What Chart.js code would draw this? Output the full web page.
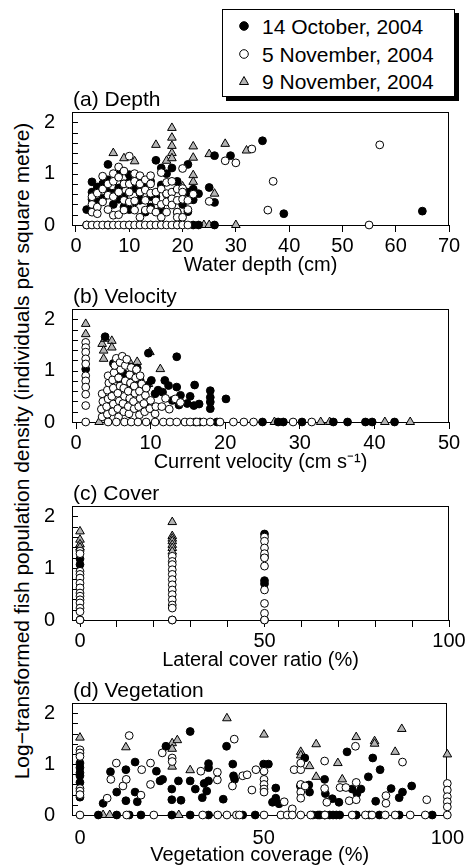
<!DOCTYPE html>
<html>
<head>
<meta charset="utf-8">
<script src="https://cdn.jsdelivr.net/npm/chart.js@4.4.1/dist/chart.umd.min.js"></script>
<style>
body { margin: 0; background: #fff; }
#page { position: relative; width: 475px; height: 867px; overflow: hidden; font-family: "Liberation Sans", Arial, sans-serif; color: #000; }
.panel { position: absolute; left: 0; width: 475px; }
#ytitle { position: absolute; left: 22px; top: 451px; transform: translate(-50%, -50%) rotate(-90deg); white-space: nowrap; font-size: 21px; }
#legend { position: absolute; left: 222px; top: 9px; width: 231px; height: 86px; border: 1px solid #000; box-shadow: 4px 4px 0 #000; background: #fff; font-size: 21px; }
.row { position: absolute; left: 15px; height: 24px; line-height: 24px; white-space: nowrap; }
.row svg { vertical-align: middle; margin-right: 12px; position: relative; top: -2px; }
</style>
</head>
<body>
<div id="page">
  <div id="legend">
    <div class="row" style="top:5px"><svg width="12" height="12"><circle cx="6" cy="6" r="4.3" fill="#000" stroke="#000"/></svg>14 October, 2004</div>
    <div class="row" style="top:33px"><svg width="12" height="12"><circle cx="6" cy="6" r="4.3" fill="#fff" stroke="#000"/></svg>5 November, 2004</div>
    <div class="row" style="top:60px"><svg width="12" height="12"><polygon points="6,1.5 10.5,9.5 1.5,9.5" fill="#b4b4b4" stroke="#000"/></svg>9 November, 2004</div>
  </div>
  <div id="ytitle">Log−transformed fish population density (individuals per square metre)</div>
  <div class="panel" style="top:86px"><canvas id="chartA" width="475" height="191"></canvas></div>
  <div class="panel" style="top:283px"><canvas id="chartB" width="475" height="191"></canvas></div>
  <div class="panel" style="top:480px"><canvas id="chartC" width="475" height="192"></canvas></div>
  <div class="panel" style="top:677px"><canvas id="chartD" width="475" height="190"></canvas></div>
</div>
<script>
// (a) water depth (cm) vs log density
let depthOct = [[2,0.30],[3,0.84],[3,0.64],[3,0.50],[4,0.74],[4,0.45],[5,0.52],[5,0.80],[6,1.18],[6,0.88],[6,0.64],[7,0.40],[7,0.62],[8,0.98],[8,0.72],[8,0.50],[9,0.35],[9,0.55],[9,0.80],[10,0.98],[10,0.84],[10,0.30],[11,0.71],[11,0.45],[12,0.48],[12,0.62],[12,0.85],[13,0.25],[13,0.75],[14,0.55],[14,0.35],[14,0.85],[15,1.26],[15,0.55],[16,1.11],[16,0.78],[16,0.30],[17,1.00],[17,0.60],[18,1.11],[18,0.42],[19,0.25],[19,0.85],[20,0.65],[20,0.40],[21,1.18],[21,0.26],[21,0.64],[22,0.49],[22,0.70],[23,0.61],[25,0.73],[26,0.44],[26,1.35],[29,1.35],[35,1.64],[39,0.22],[65,0.27],
  [2,0],[6,0],[10,0],[14,0],[19,0],[22,0],[23,0],[26,0]];
let depthNov5 = [[3,0.55],[3,0.40],[3,0.25],[4,0.35],[4,0.22],[4,0.62],[5,0.70],[5,0.45],[5,0.95],[6,0.58],[6,0.30],[6,0.80],[7,0.19],[7,0.85],[7,0.55],[7,1.00],[8,1.13],[8,0.93],[8,0.64],[8,0.20],[9,0.80],[9,0.48],[9,0.29],[9,1.05],[10,1.34],[10,0.80],[10,0.64],[10,0.45],[11,0.47],[11,0.29],[11,1.00],[11,0.85],[12,0.96],[12,0.80],[12,0.64],[12,0.15],[13,0.48],[13,0.29],[13,0.68],[13,0.88],[14,0.96],[14,0.80],[14,0.30],[14,0.62],[15,0.64],[15,0.47],[15,0.25],[16,1.02],[16,0.40],[16,0.70],[16,0.15],[17,0.83],[17,0.61],[17,0.25],[17,0.45],[18,0.64],[18,0.51],[18,0.39],[18,0.85],[19,0.25],[19,0.15],[19,0.48],[19,0.70],[20,1.10],[20,0.71],[20,0.64],[20,0.50],[20,0.15],[21,0.48],[21,0.30],[22,0.60],[25,0.46],[28,1.25],[30,1.21],[33,1.48],[36,0.29],[37,0.85],[57,1.56],
  [2,0],[3,0],[4,0],[5,0],[6,0],[7,0],[8,0],[9,0],[10,0],[11,0],[12,0],[13,0],[14,0],[15,0],[16,0],[17,0],[18,0],[19,0],[20,0],[21,0],[55,0]];
let depthNov9 = [[7,1.40],[9,1.30],[11,1.24],[15,1.56],[17,1.25],[18,1.89],[18,1.70],[18,1.54],[18,1.40],[18,1.30],[20,0.75],[22,1.53],[22,1.31],[22,0.97],[22,0.84],[22,0.68],[25,1.38],[26,0.61],[28,1.58],[32,1.45],
  [24,0],[25,0],[30,0]];

// (b) current velocity (cm/s)
let velOct = [[3.9,1.66],[9.7,1.34],[13.5,1.27],[5.0,1.14],[5.7,1.08],[5.5,0.98],[6.4,0.94],[5.9,0.81],[6.8,0.88],[7.3,0.75],[7.7,0.98],[8.6,0.81],[9.5,0.71],[10.1,0.81],[11.9,0.81],[12.4,0.71],[11.0,0.62],[11.6,0.58],[10.6,0.55],[13.5,0.68],[14.0,0.52],[12.9,0.42],[13.8,0.33],[14.9,0.36],[5.5,0.28],[6.3,0.24],[9.5,0.32],[10.3,0.26],[15.9,0.72],[15.3,0.50],[15.8,0.32],[16.5,0.35],[18.0,0.61],[18.0,0.48],[18.0,0.39],[18.0,0.26],[20.1,0.45],[8.2,1.05],[1.3,1.03],
  [16.0,0],[16.6,0],[18.9,0],[25.0,0],[27.1,0],[27.8,0],[30.3,0],[34.5,0],[36.4,0],[38.8,0],[39.7,0],[42.7,0]];
let velNov5 = [[1.3,1.55],[1.3,1.45],[1.3,1.36],[1.3,1.23],[1.3,1.13],[1.3,0.90],[1.3,0.80],[1.3,0.68],[1.3,0.54],[1.3,0.32],
  [3.5,0.10],[3.4,0.25],[3.6,0.40],[3.5,0.55],
  [4.2,0.15],[4.1,0.30],[4.3,0.45],[4.2,0.62],[4.4,0.76],[4.3,0.90],
  [4.9,0.20],[5.0,0.35],[4.8,0.50],[5.0,0.66],[4.9,0.82],[5.1,0.96],[5.2,1.10],[5.4,1.24],
  [5.7,0.10],[5.6,0.26],[5.8,0.41],[5.6,0.56],[5.9,0.70],[5.7,0.86],[6.0,1.02],[5.9,1.16],[6.2,1.28],
  [6.4,0.20],[6.3,0.36],[6.5,0.50],[6.4,0.66],[6.6,0.80],[6.6,1.10],[6.8,1.22],
  [7.1,0.16],[7.0,0.30],[7.2,0.46],[7.0,0.60],[7.3,0.76],[7.2,0.92],[7.4,1.06],
  [7.8,0.26],[7.7,0.40],[7.9,0.56],[7.8,0.70],[8.0,0.86],[8.1,1.02],
  [8.5,0.14],[8.4,0.30],[8.6,0.46],[8.5,0.60],[8.8,0.74],[8.6,0.90],
  [9.2,0.20],[9.1,0.36],[9.3,0.52],[9.4,0.66],
  [9.9,0.26],[10.0,0.42],[10.6,0.16],[10.7,0.30],[11.5,0.30],[12.0,0.46],[12.5,0.25],[13.3,0.45],[14.0,0.38],
  [1.3,0],[4.3,0],[5.4,0],[6.5,0],[7.4,0],[8.3,0],[9.4,0],[10.6,0],[11.7,0],[12.6,0],[13.5,0],[14.6,0],[15.3,0],[16.2,0],[17.1,0],[18.0,0],[19.3,0],[21.1,0],[22.5,0],[23.8,0],[29.1,0],[31.6,0]];
let velNov9 = [[1.3,1.91],[1.3,1.71],[3.5,1.52],[3.9,1.62],[4.8,1.58],[4.8,1.45],[3.7,1.39],[3.7,1.23],[7.1,1.19],[8.2,1.17],[9.9,1.36],[11.3,1.03],[9.7,0.74],
  [3.1,0],[26.6,0],[32.8,0],[34.0,0],[41.4,0],[44.8,0]];

// (c) lateral cover ratio (%)
let coverOct = [[0,1.18],[0,1.07],[50,1.66],[50,1.22],[50,0.76],[50,0.70],[0,0],[25,0],[50,0]];
let coverNov5 = [[0,1.33],[0,1.28],[0,0.94],[0,0.88],[0,0.81],[0,0.71],[0,0.62],[0,0.52],[0,0.46],[0,0.39],[0,0.33],[0,0.23],[0,0.16],[0,0],
  [25,1.23],[25,1.13],[25,1.07],[25,0.97],[25,0.88],[25,0.78],[25,0.68],[25,0.58],[25,0.49],[25,0.39],[25,0.29],[25,0.23],[25,0],
  [50,1.60],[50,1.52],[50,1.39],[50,1.28],[50,1.20],[50,1.04],[50,0.58],[50,0.32],[50,0.13],[50,0]];
let coverNov9 = [[0,1.71],[0,1.55],[0,1.46],[0,1.40],[25,1.89],[25,1.62],[25,1.57],[25,1.52],[25,1.45],[25,1.39],[25,1.32]];

// (d) vegetation coverage (%)
let vegOct = [[0,1.02],[0,0.93],[0,0.83],[0,0.77],[0,0.64],[0,0.35],[6.3,0.23],[8.3,0.85],[10,0.45],[12.5,0.89],[12.5,0.28],[15,1.04],[15,0.45],[15.6,0.26],[20.8,0.86],[21.8,0.67],[22.5,0.70],[23.4,1.35],[25,0.51],[25,0.30],[26.8,0.67],[27.5,0.29],[30,1.64],[30,0.67],[31.4,0.51],[33.3,0.34],[33.8,0.62],[34.5,0.47],[35,1.01],[35,0.93],[35,0.67],[39,0.31],[39.9,1.35],[41.6,1.00],[41.8,0.77],[42.1,0.70],[50,1.00],[51.3,1.00],[52.4,0.25],[53.3,0.53],[53.3,0.33],[54.2,0.22],[60,0.57],[61.2,1.12],[62.3,0.59],[62.5,0.45],[66.6,0.70],[66.8,0.42],[68.7,0.32],[70.5,0.25],[72.7,1.24],[74.1,0.51],[75.4,0.42],[76.5,0.51],[78.5,0.75],[79.7,1.12],[80.5,0.27],[81.7,0.89],[84.7,0.52],[86.9,0.34],[87.8,0.45],[90.3,0.57],
  [5,0],[10,0],[13.4,0],[16.6,0],[25,0],[30,0],[35,0],[44.3,0],[47.7,0],[63.4,0],[64.8,0],[65.3,0],[66.6,0],[68,0],[68.9,0],[69.8,0],[70.7,0],[75.2,0],[78.8,0],[81.5,0],[86.9,0],[95.9,0]];
let vegNov5 = [[0,1.28],[0,1.22],[0,1.15],[0,0.52],[0,0.47],[0,0.40],[7.4,0.33],[8.4,0.70],[9.9,1.02],[11.7,0.57],[12.6,0.70],[13.4,1.56],[16.6,0.39],[16.8,0.89],[19.2,1.02],[19.2,0.60],[22.4,1.22],[25.1,1.12],[25.1,1.05],[32.9,0.86],[37.4,0.69],[37.4,0.84],[41.5,0.57],[42,1.49],[44.3,0.77],[45.5,0.79],[46.8,0.49],[47.9,0.89],[50.1,0.86],[50.1,0.70],[50.1,0.60],[50.1,0.51],[50.1,0.45],[55.6,0.26],[57.8,0.12],[58.3,0.89],[60.1,0.89],[60.1,1.02],[60.1,0.60],[60.1,0.45],[60.1,0.33],[61.3,0.57],[66.6,1.06],[66.6,0.52],[67.2,0.25],[70.8,0.54],[72.4,0.54],[73.3,0.28],[75,1.35],[75.2,0.64],[75.2,0.30],[83.3,0.38],[83.3,0.23],[87.8,1.04],[94.4,0.30],[100,0.62],[100,0.49],[100,0.36],[100,0.26],[100,0.16],
  [0,0],[12.7,0],[20.1,0],[33.4,0],[37.5,0],[40,0],[42.6,0],[43.4,0],[50.1,0],[54.7,0],[56.4,0],[57.8,0],[60.1,0],[62.8,0],[66.7,0],[74.1,0],[77.7,0],[79.5,0],[83.1,0],[85.8,0],[89.9,0],[94,0],[100,0]];
let vegNov9 = [[0,1.52],[12.5,1.33],[25.1,1.41],[26.5,1.47],[25.1,1.30],[25.1,0.95],[30,0.88],[40,1.90],[50.1,1.58],[60.1,1.24],[60.1,1.17],[62.5,0.96],[64.3,1.39],[64.3,0.75],[70.2,1.02],[71.4,0.70],[75.2,1.53],[80.2,1.45],[80.2,1.40],[85.8,1.24],[87.6,1.69],[100,1.19],
  [6.3,0],[8.1,0],[26.9,0]];

let yTicks = [0, 1, 2];
let yMinor = [0, 0.2, 0.4, 0.6, 0.8, 1, 1.2, 1.4, 1.6, 1.8, 2];
let depthTicks = [0, 10, 20, 30, 40, 50, 60, 70];
let velTicks = [0, 10, 20, 30, 40, 50];
let pctTicks = [0, 10, 20, 30, 40, 50, 60, 70, 80, 90, 100];
let pctLabels = [0, 50, 100];

// frame box, inward y ticks and panel title
const framePlugin = {
    id: 'frame',
    beforeDatasetsDraw(chart, args, opts) {
        let ctx = chart.ctx, a = chart.chartArea, ys = chart.scales.y;
        ctx.save();
        ctx.strokeStyle = '#000';
        ctx.lineWidth = 1;
        ctx.strokeRect(Math.round(a.left) + 0.5, Math.round(a.top) + 0.5, Math.round(a.right - a.left) - 1, Math.round(a.bottom - a.top));
        ctx.beginPath();
        for (let v of yMinor) {
            let py = Math.round(ys.getPixelForValue(v)) + 0.5;
            ctx.moveTo(a.left, py);
            ctx.lineTo(a.left + 6, py);
        }
        ctx.stroke();
        ctx.fillStyle = '#000';
        ctx.font = '21px "Liberation Sans", Arial, sans-serif';
        ctx.textBaseline = 'middle';
        ctx.textAlign = 'left';
        ctx.fillText(opts.title, a.left + 1, a.top - 12);
        ctx.restore();
    }
};

function makePanel(id, title, xTitle, xMin, xMax, xTicks, tickLen, sets) {
    let font = {family: '"Liberation Sans", Arial, sans-serif', size: 20};
    new Chart(document.getElementById(id), {
        type: 'scatter',
        data: {
            datasets: [
                {data: sets[0], pointStyle: 'circle', pointRadius: 3.9, backgroundColor: '#000', borderColor: '#000', borderWidth: 1, order: 1, clip: false},
                {data: sets[1], pointStyle: 'circle', pointRadius: 3.9, backgroundColor: '#fff', borderColor: '#000', borderWidth: 1, order: 0, clip: false},
                {data: sets[2], pointStyle: 'triangle', pointRadius: 5, backgroundColor: '#b4b4b4', borderColor: '#000', borderWidth: 1, order: 2, clip: false}
            ]
        },
        options: {
            responsive: false,
            animation: false,
            events: [],
            layout: {padding: {left: 0, right: 26, top: 26, bottom: 0}},
            plugins: {legend: {display: false}, tooltip: {enabled: false}, frame: {title: title}},
            scales: {
                x: {
                    type: 'linear', min: xMin, max: xMax,
                    afterBuildTicks: s => { s.ticks = xTicks.map(v => ({value: v})); },
                    afterFit: s => { s.height = 52; },
                    border: {display: false},
                    grid: {drawOnChartArea: false, drawTicks: tickLen > 0, tickLength: tickLen, color: '#000'},
                    ticks: {color: '#000', font: font, padding: tickLen > 0 ? 2 : 11, maxRotation: 0, autoSkip: false,
                        callback: v => (xTicks.length > 8 || tickLen == 0) ? (pctLabels.includes(v) ? v : '') : v},
                    title: {display: true, text: xTitle, color: '#000', font: font, padding: {top: 0, bottom: 0}}
                },
                y: {
                    min: 0, max: 2.2,
                    afterBuildTicks: s => { s.ticks = yTicks.map(v => ({value: v})); },
                    afterFit: s => { s.width = 72; },
                    border: {display: false},
                    grid: {display: false},
                    ticks: {color: '#000', font: font, padding: 9}
                }
            }
        },
        plugins: [framePlugin]
    });
}

makePanel('chartA', '(a) Depth', 'Water depth (cm)', -0.75, 70, depthTicks, 7, [depthOct, depthNov5, depthNov9]);
makePanel('chartB', '(b) Velocity', 'Current velocity (cm s\u207B\u00B9)', -0.54, 50, velTicks, 7, [velOct, velNov5, velNov9]);
makePanel('chartC', '(c) Cover', 'Lateral cover ratio (%)', -2.17, 100, pctTicks, 7, [coverOct, coverNov5, coverNov9]);
makePanel('chartD', '(d) Vegetation', 'Vegetation coverage (%)', -2.17, 100, pctLabels, 0, [vegOct, vegNov5, vegNov9]);
</script>
</body>
</html>
